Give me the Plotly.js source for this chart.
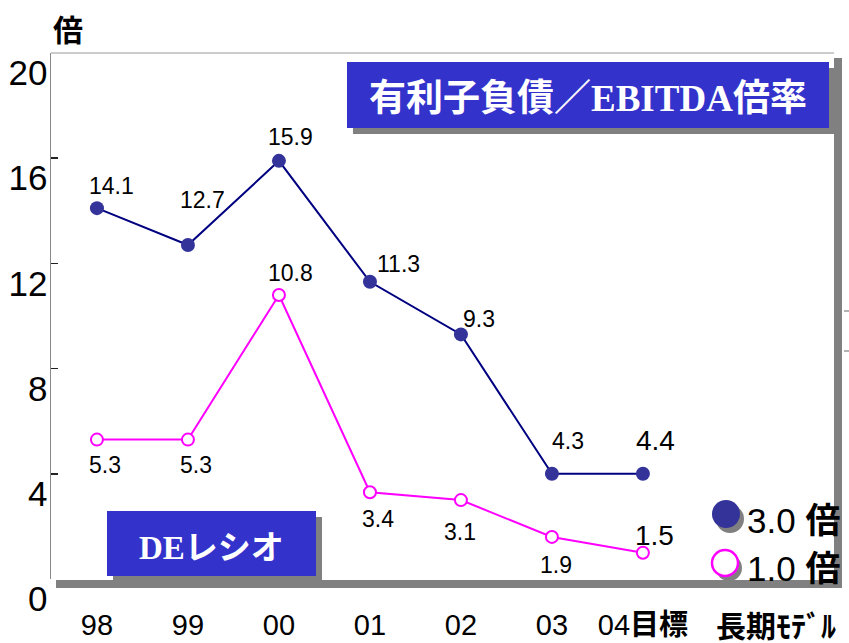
<!DOCTYPE html>
<html><head><meta charset="utf-8">
<script src="https://cdn.plot.ly/plotly-3.0.1.min.js"></script>
<style>html,body{margin:0;padding:0;background:#fff;} #chart{width:849px;height:643px;}</style>
</head><body><div id="chart"></div>
<script>
// ---- data ----
const categories = ['98','99','00','01','02','03','04<b>目標</b>'];
const debtValues = [14.1, 12.7, 15.9, 11.3, 9.3, 4.0, 4.0];     // as drawn
const debtLabels = ['14.1','12.7','15.9','11.3','9.3','4.3','4.4'];
const deValues   = [5.3, 5.3, 10.8, 3.3, 3.0, 1.6, 1.0];          // as drawn
const deLabels   = ['5.3','5.3','10.8','3.4','3.1','1.9','1.5'];
const yTicks = [0, 4, 8, 12, 16, 20];
const legendTexts = ['3.0 <b>倍</b>', '1.0 <b>倍</b>'];
const chartTitle = '有利子負債／<span style="font-family:Liberation Serif">EBITDA</span>倍率';
const deTitle = '<span style="font-family:Liberation Serif">DE</span>レシオ';
const yUnit = '倍';
const longTerm = '長期ﾓﾃﾞﾙ';

// ---- layout helpers (pixel -> paper) ----
const L = 51, R = 834, T = 53, B = 579;
const X = px => (px - L) / (R - L);
const Y = py => (B - py) / (B - T);
const FONT = 'Liberation Sans, Arial, Noto Sans CJK JP, sans-serif';
const CJK = 'Noto Sans CJK JP, Liberation Sans, sans-serif';
const GRAY = '#808080';
const BLUE = '#3333CC';

const xIdx = categories.map((_, i) => i);

// label offsets (pixels)
const debtOff = [[15,22],[15,45],[12,24],[29,18],[18,15],[16,33],[13,33]];
const deOff   = [[8,-25],[8,-25],[12,22],[8,-27],[-1,-32],[4,-28],[12,17]];

const traces = [
  {x: xIdx, y: debtValues, mode: 'lines+markers', type: 'scatter',
   line: {color: '#000080', width: 2},
   marker: {color: '#333399', size: 14}, hoverinfo: 'skip', cliponaxis: false},
  {x: xIdx, y: deValues, mode: 'lines+markers', type: 'scatter',
   line: {color: '#FF00FF', width: 2},
   marker: {color: '#FFFFFF', size: 12, line: {color: '#FF00FF', width: 2}}, hoverinfo: 'skip', cliponaxis: false}
];

const annotations = [];
function note(px, py, text, font, xanchor) {
  annotations.push({x: X(px), y: Y(py), xref: 'paper', yref: 'paper', text: text, showarrow: false,
    xanchor: xanchor || 'center', yanchor: 'middle', font: font});
}
debtLabels.forEach((t, i) => annotations.push({x: i, y: debtValues[i], xref: 'x', yref: 'y', text: t, showarrow: false,
  xanchor: 'center', yanchor: 'middle',
  xshift: debtOff[i][0], yshift: debtOff[i][1], font: {family: FONT, size: i === 6 ? 28 : 23, color: '#000'}}));
deLabels.forEach((t, i) => annotations.push({x: i, y: deValues[i], xref: 'x', yref: 'y', text: t, showarrow: false,
  xanchor: 'center', yanchor: 'middle',
  xshift: deOff[i][0], yshift: deOff[i][1], font: {family: FONT, size: i === 6 ? 28 : 23, color: '#000'}}));

note(588, 95, '<b>' + chartTitle + '</b>', {family: CJK, size: 37, color: '#FFFFFF'});
note(211, 545, '<b>' + deTitle + '</b>', {family: CJK, size: 33, color: '#FFFFFF'});
note(68, 28, '<b>' + yUnit + '</b>', {family: CJK, size: 30, color: '#000'});
note(776, 624, '<b>' + longTerm + '</b>', {family: CJK, size: 30, color: '#000'});
note(745, 520, legendTexts[0], {family: FONT, size: 35, color: '#000'}, 'left');
note(745, 568, legendTexts[1], {family: FONT, size: 35, color: '#000'}, 'left');

function rect(x0, y0, x1, y1, fill) {
  return {type: 'rect', xref: 'paper', yref: 'paper', x0: X(x0), x1: X(x1), y0: Y(y1), y1: Y(y0),
    fillcolor: fill, line: {width: 0}, layer: 'below'};
}
function circ(cx, cy, r, fill, lc, lw) {
  return {type: 'circle', xref: 'paper', yref: 'paper', x0: X(cx - r), x1: X(cx + r), y0: Y(cy + r), y1: Y(cy - r),
    fillcolor: fill, line: {color: lc, width: lw}, layer: 'below'};
}
function seg(x0, y0, x1, y1, c, w) {
  return {type: 'line', xref: 'paper', yref: 'paper', x0: X(x0), x1: X(x1), y0: Y(y0), y1: Y(y1),
    line: {color: c, width: w}, layer: 'below'};
}

const shapes = [
  seg(51, 53, 834, 53, '#999999', 1.2),
  rect(834, 58, 842, 588, GRAY),
  rect(56, 580, 842, 588, GRAY),
  seg(844, 311, 849, 311, '#999', 1.5),
  seg(844, 351, 849, 351, '#999', 1.5),
  rect(353, 68, 835, 134, GRAY),
  rect(347, 62, 829, 128, BLUE),
  rect(113, 517, 322, 582, GRAY),
  rect(107, 511, 316, 576, BLUE),
  circ(730, 519, 14, GRAY, GRAY, 0),
  circ(726, 514, 14, '#333399', '#333399', 0),
  circ(729, 568, 13, GRAY, GRAY, 0),
  circ(725, 563, 13, '#FFFFFF', '#FF00FF', 2.5)
];

const layout = {
  width: 849, height: 643,
  margin: {l: L, r: 849 - R, t: T, b: 643 - B, pad: 0},
  paper_bgcolor: '#FFFFFF', plot_bgcolor: 'rgba(0,0,0,0)',
  showlegend: false,
  font: {family: FONT, color: '#000'},
  xaxis: {range: [-0.505, 8.1], tickmode: 'array', tickvals: xIdx, ticktext: categories,
    showgrid: false, zeroline: false, showline: false, ticks: '',
    tickfont: {family: FONT, size: 29, color: '#000'}, ticklabelstandoff: 26, fixedrange: true},
  yaxis: {range: [0, 20], tickmode: 'array', tickvals: yTicks, ticktext: yTicks.map(String),
    showgrid: false, zeroline: false, showline: true, linecolor: '#888888', linewidth: 1.5,
    ticks: 'inside', ticklen: 7, tickwidth: 1.5, tickcolor: '#222222',
    tickfont: {family: FONT, size: 35, color: '#000'}, ticklabelshift: 20, ticklabelstandoff: -5, fixedrange: true},
  shapes: shapes,
  annotations: annotations
};

Plotly.newPlot('chart', traces, layout, {displayModeBar: false, staticPlot: true});
</script>
</body></html>
